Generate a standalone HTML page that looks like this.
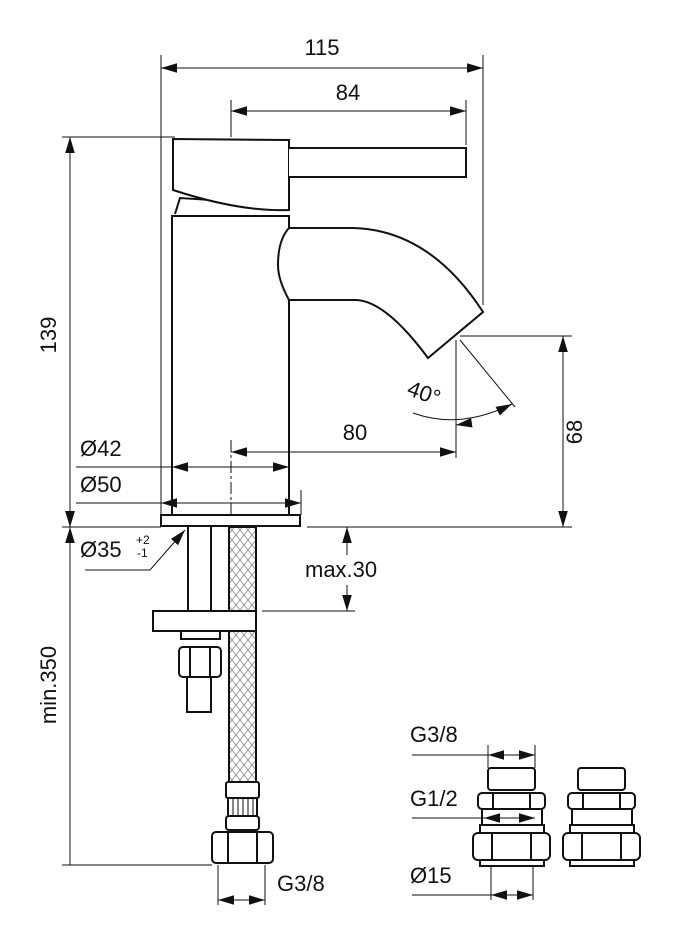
<!DOCTYPE html>
<html><head><meta charset="utf-8"><style>
html,body{margin:0;padding:0;background:#fff}
svg{display:block}
text{font-family:"Liberation Sans",sans-serif;font-size:22px;fill:#111}
</style></head><body>
<svg width="679" height="950" viewBox="0 0 679 950" xmlns="http://www.w3.org/2000/svg">
<defs>
<marker id="a" viewBox="0 0 10 6" refX="10" refY="3" markerWidth="16" markerHeight="10" markerUnits="userSpaceOnUse" orient="auto-start-reverse"><path d="M0,0 L10,3 L0,6 z" fill="#111"/></marker>
<pattern id="br" width="8" height="10" patternUnits="userSpaceOnUse"><path d="M0,0 L4,5 L0,10 M8,0 L4,5 L8,10" stroke="#888" stroke-width="0.8" fill="none"/></pattern>
</defs>
<g stroke="#111" stroke-width="2" fill="#fff">
<!-- body -->
<rect x="172" y="216" width="117" height="299"/>
<path d="M175,214 L180,198 L289,205" fill="none"/>
<path d="M173,139 L289,140 L289,210 Q240,212 173,190 Z"/>
<path d="M289,148 L466,148 L466,177 L289,177"/>
<path d="M289,228 L353,228 Q430,230 483,312 L428,358 Q385,300 355,300 L289,300 Q278,280 278,265 Q278,240 289,228 Z"/>
<rect x="161" y="515" width="139" height="11"/>
<!-- under -->
<line x1="188" y1="527" x2="188" y2="611"/><line x1="211" y1="527" x2="211" y2="611"/>
<rect x="229" y="527" width="27" height="255" fill="url(#br)"/>
<rect x="153" y="611" width="103" height="20"/>
<rect x="181" y="631" width="39" height="8"/>
<rect x="179" y="647" width="42" height="30" rx="4"/>
<line x1="190" y1="647" x2="190" y2="677"/><line x1="210" y1="647" x2="210" y2="677"/>
<rect x="187" y="677" width="24" height="35"/>
<rect x="226" y="782" width="33" height="16" rx="2"/>
<rect x="228" y="798" width="29" height="18"/>
<path d="M233,798 V816 M238,798 V816 M243,798 V816 M248,798 V816 M253,798 V816" fill="none" stroke-width="1"/>
<rect x="226" y="816" width="33" height="14" rx="3"/>
<rect x="212" y="832" width="61" height="31" rx="4"/>
<line x1="228" y1="832" x2="228" y2="863"/><line x1="257" y1="832" x2="257" y2="863"/>
<!-- fittings -->
<g id="f">
<rect x="488" y="768" width="47" height="22" rx="3"/>
<rect x="478" y="793" width="67" height="16" rx="4"/>
<line x1="493" y1="793" x2="493" y2="809"/><line x1="530" y1="793" x2="530" y2="809"/>
<rect x="482" y="809" width="60" height="16"/>
<rect x="480" y="825" width="64" height="8"/>
<rect x="473" y="833" width="77" height="27" rx="5"/>
<line x1="492" y1="833" x2="492" y2="860"/><line x1="531" y1="833" x2="531" y2="860"/>
<rect x="480" y="860" width="64" height="6"/>
</g>
<use href="#f" x="90"/>
</g>
<g stroke="#111" stroke-width="1" fill="none">
<line x1="161" y1="55" x2="161" y2="515"/>
<line x1="483" y1="55" x2="483" y2="305"/>
<line x1="231" y1="100" x2="231" y2="137"/>
<line x1="466" y1="100" x2="466" y2="145"/>
<line x1="62" y1="137" x2="175" y2="137"/>
<line x1="62" y1="527" x2="161" y2="527"/>
<line x1="307" y1="527" x2="572" y2="527"/>
<line x1="460" y1="336" x2="572" y2="336"/>
<line x1="456" y1="340" x2="456" y2="458"/>
<line x1="460" y1="340" x2="515" y2="407"/>
<line x1="76" y1="467" x2="172" y2="467"/>
<line x1="76" y1="503" x2="161" y2="503"/>
<line x1="262" y1="611" x2="355" y2="611"/>
<line x1="62" y1="865" x2="212" y2="865"/>
<line x1="218" y1="865" x2="218" y2="905"/>
<line x1="265" y1="865" x2="265" y2="905"/>
<line x1="231" y1="440" x2="231" y2="515" stroke-dasharray="12,3,3,3"/>
<line x1="161" y1="68" x2="483" y2="68" marker-start="url(#a)" marker-end="url(#a)"/>
<line x1="231" y1="111" x2="466" y2="111" marker-start="url(#a)" marker-end="url(#a)"/>
<line x1="70" y1="137" x2="70" y2="527" marker-start="url(#a)" marker-end="url(#a)"/>
<line x1="231" y1="452" x2="456" y2="452" marker-start="url(#a)" marker-end="url(#a)"/>
<line x1="172" y1="467" x2="289" y2="467" marker-start="url(#a)" marker-end="url(#a)"/>
<line x1="161" y1="503" x2="301" y2="503" marker-start="url(#a)" marker-end="url(#a)"/>
<line x1="301" y1="490" x2="301" y2="515"/>
<line x1="563" y1="336" x2="563" y2="527" marker-start="url(#a)" marker-end="url(#a)"/>
<path d="M413,413 Q460,430 512,404" marker-end="url(#a)"/>
<path d="M470,423 L456,425" marker-end="url(#a)"/>
<line x1="70" y1="865" x2="70" y2="527" marker-end="url(#a)"/>
<line x1="70" y1="505" x2="70" y2="527" marker-end="url(#a)"/>
<line x1="347" y1="555" x2="347" y2="527" marker-end="url(#a)"/>
<line x1="347" y1="585" x2="347" y2="611" marker-end="url(#a)"/>
<path d="M85,570 L150,570 L185,530" marker-end="url(#a)"/>
<line x1="218" y1="900" x2="265" y2="900" marker-start="url(#a)" marker-end="url(#a)"/>
<line x1="412" y1="755" x2="535" y2="755" marker-end="url(#a)"/>
<line x1="488" y1="755" x2="500" y2="755" marker-start="url(#a)"/>
<line x1="488" y1="745" x2="488" y2="768"/><line x1="535" y1="745" x2="535" y2="768"/>
<line x1="412" y1="818" x2="535" y2="818" marker-end="url(#a)"/>
<line x1="484" y1="818" x2="500" y2="818" marker-start="url(#a)"/>
<line x1="412" y1="895" x2="533" y2="895" marker-end="url(#a)"/>
<line x1="491" y1="895" x2="505" y2="895" marker-start="url(#a)"/>
<line x1="491" y1="866" x2="491" y2="900"/><line x1="533" y1="866" x2="533" y2="900"/>
</g>
<text x="322" y="55" text-anchor="middle">115</text>
<text x="348" y="100" text-anchor="middle">84</text>
<text x="355" y="440" text-anchor="middle">80</text>
<text x="80" y="456">Ø42</text>
<text x="80" y="492">Ø50</text>
<text x="80" y="557">Ø35</text>
<text x="136" y="544" style="font-size:12px">+2</text>
<text x="137" y="557" style="font-size:12px">-1</text>
<text x="305" y="577">max.30</text>
<text x="277" y="891">G3/8</text>
<text x="410" y="742">G3/8</text>
<text x="410" y="806">G1/2</text>
<text x="410" y="883">Ø15</text>
<text x="407" y="402" transform="rotate(20 428 395)">40°</text>
<text transform="translate(56,335) rotate(-90)" text-anchor="middle">139</text>
<text transform="translate(582,432) rotate(-90)" text-anchor="middle">68</text>
<text transform="translate(56,685) rotate(-90)" text-anchor="middle">min.350</text>
</svg>
</body></html>
